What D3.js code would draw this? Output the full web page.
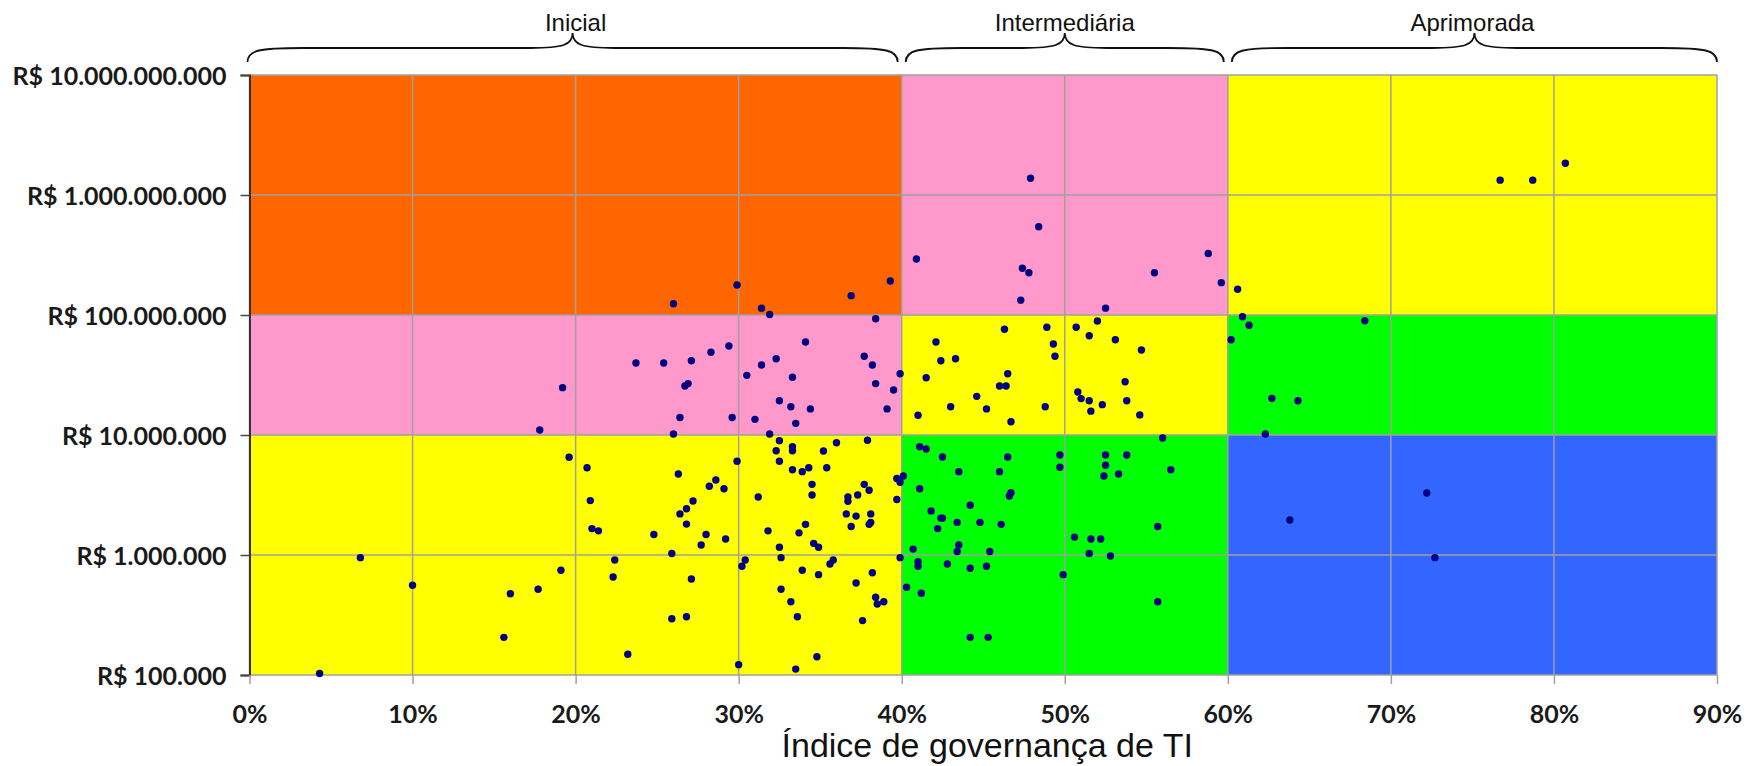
<!DOCTYPE html>
<html>
<head>
<meta charset="utf-8">
<script src="https://cdn.jsdelivr.net/npm/d3@7"></script>
<style>
  body { margin: 0; background: #fff; }
  svg { display: block; }
</style>
</head>
<body>
<svg id="chart" width="1752" height="766"></svg>
<script>
// governance index (%) for each organisation
let govIndex = [
  26.0, 29.9, 31.4, 31.9, 36.9, 39.3, 40.9, 47.4, 47.8, 47.3, 55.5, 52.5, 38.4,
  23.7, 25.4, 27.1, 28.3, 29.4, 26.7, 26.9, 26.4, 26.0, 29.6, 30.5, 31.4, 32.3,
  34.1, 33.3, 32.5, 33.2, 34.4, 33.5, 31.0, 31.9, 37.7, 38.2, 38.4, 39.5, 39.1,
  39.9, 42.1, 42.4, 43.3, 41.5, 41.0, 43.0, 44.6, 45.2, 46.0, 46.4, 46.5, 46.3,
  48.9, 49.3, 49.4, 46.7, 48.8, 50.7, 51.5, 52.0, 53.1, 54.7, 50.8, 51.0, 51.5,
  51.6, 52.3, 53.7, 53.8, 54.6, 56.0, 20.7, 20.9, 26.3, 28.6, 28.2, 29.1, 27.2,
  26.8, 29.9, 32.5, 32.3, 33.3, 33.3, 32.5, 35.2, 36.0, 37.9, 33.3, 33.9, 34.3,
  35.4, 34.5, 34.5, 37.7, 38.0, 37.3, 36.7, 36.7, 31.2, 39.7, 40.1, 39.9, 39.7,
  41.1, 41.5, 42.5, 43.5, 41.1, 46.5, 46.0, 46.7, 46.6, 44.2, 41.8, 49.7, 49.7,
  52.5, 53.8, 52.5, 52.4, 53.3, 56.5,
  26.4, 26.8, 24.8, 28.0, 27.7, 29.2, 25.9, 22.4, 22.3, 21.0, 21.4, 27.1, 25.9,
  26.8, 23.2, 30.0, 33.5, 34.8, 31.8, 33.7, 34.1, 32.5, 32.6, 34.6, 34.9, 30.4,
  30.2, 33.9, 34.9, 35.8, 35.6, 32.6, 33.2, 33.6, 36.6, 37.2, 38.1, 36.9, 38.0,
  38.1, 37.2, 38.2, 38.4, 38.5, 38.9, 37.6, 39.9, 40.7, 41.0, 41.0, 40.3, 41.2,
  42.4, 42.5, 42.2, 43.4, 44.8, 46.1, 43.5, 43.4, 45.4, 42.8, 44.2, 45.2, 44.2,
  45.3, 50.6, 51.6, 52.2, 51.5, 52.8, 49.9, 55.7, 55.7,
  6.8, 10.0, 16.0, 17.7, 19.1, 15.6, 4.3, 19.2, 17.8, 19.6,
  47.9, 48.4, 76.7, 78.7, 80.7, 58.8, 59.6, 60.6, 60.9, 61.3, 60.2, 68.4, 62.7,
  64.3, 62.3, 72.2, 63.8, 72.7
];

// IT budget, in millions of R$
let budgetMi = [
  124, 178, 114, 101, 145, 192, 293, 245, 225, 133, 225, 114, 93,
  39.8, 39.8, 41.6, 48.9, 55.2, 25.6, 26.8, 14.0, 10.2, 14.0, 31.4, 38.3, 43.2,
  59.6, 30.3, 19.3, 17.2, 16.5, 12.5, 13.5, 10.2, 45.3, 38.3, 26.8, 23.7, 16.5,
  32.4, 59.6, 41.6, 43.2, 30.0, 14.6, 17.2, 21.0, 16.5, 25.6, 25.6, 32.4, 76.0,
  79.0, 57.3, 45.3, 12.9, 17.2, 79.0, 67.2, 89.1, 62.2, 51.1, 22.8, 20.1, 19.3,
  15.8, 17.9, 27.8, 19.3, 14.7, 9.44, 5.34, 2.84, 4.73, 4.22, 3.74, 3.57, 2.82,
  2.43, 6.04, 8.97, 7.40, 7.99, 7.40, 6.04, 7.36, 8.63, 9.03, 5.14, 4.95, 5.34,
  5.34, 3.88, 3.16, 3.88, 3.46, 3.16, 3.04, 2.80, 3.04, 4.35, 4.55, 4.04, 2.90,
  7.99, 7.64, 6.56, 4.95, 3.57, 6.56, 4.95, 3.30, 3.10, 2.60, 2.33, 6.81, 5.38,
  6.81, 6.81, 5.59, 4.55, 4.73, 5.14,
  2.20, 1.81, 1.48, 1.48, 1.21, 1.36, 1.03, 0.908, 0.656, 1.66, 1.59, 0.631, 0.294,
  0.306, 0.149, 0.122, 0.112, 0.142, 1.59, 1.53, 1.80, 1.16, 0.950, 1.25, 1.16, 0.908,
  0.805, 0.746, 0.686, 0.908, 0.841, 0.518, 0.408, 0.306, 2.20, 2.11, 2.20, 1.73, 1.80,
  1.87, 0.584, 0.712, 0.444, 0.391, 0.408, 0.284, 0.950, 1.12, 0.879, 0.805, 0.538, 0.480,
  2.03, 2.03, 1.66, 1.87, 1.87, 1.80, 1.21, 1.07, 1.07, 0.841, 0.775, 0.805, 0.206,
  0.206, 1.41, 1.36, 1.36, 1.03, 0.981, 0.686, 1.73, 0.408,
  0.950, 0.559, 0.476, 0.518, 0.746, 0.206, 0.103, 24.8, 11.0, 6.52,
  1380, 544, 1330, 1330, 1840, 325, 186, 164, 96.8, 82.1, 62.2, 89.6, 20.2,
  19.3, 10.2, 3.29, 1.96, 0.950
];

// maturity levels and the index range each one covers
let levelNames = ["Inicial", "Intermediária", "Aprimorada"];
let levelStart = [0, 40, 60];
let levelEnd = [40, 60, 90];

// budget bands (bottom to top)
let bandStart = [1e5, 1e7, 1e8];
let bandEnd = [1e7, 1e8, 1e10];

let xTicks = [0, 10, 20, 30, 40, 50, 60, 70, 80, 90];
let yTicks = [1e5, 1e6, 1e7, 1e8, 1e9, 1e10];
let xTitle = "Índice de governança de TI";

// colour of each cell: [level][band]
let cellColors = [
  ["#FFFF00", "#FF99CC", "#FF6600"],
  ["#00FF00", "#FFFF00", "#FF99CC"],
  ["#3366FF", "#00FF00", "#FFFF00"]
];
let gridColor = "#A0A0A0";
let dotColor = "#000080";

let svg = d3.select("#chart");

let x = d3.scaleLinear().domain([0, 90]).range([249.5, 1717]);
let y = d3.scaleLog().domain([1e5, 1e10]).range([675, 75]);

let points = govIndex.map((g, i) => ({ g: g, v: budgetMi[i] * 1e6 }));

// coloured cells
let cells = [];
levelNames.forEach((n, li) => {
  bandStart.forEach((b, bi) => {
    cells.push({ li: li, bi: bi });
  });
});
svg.selectAll(".cell")
  .data(cells)
  .enter()
  .append("rect")
  .attr("x", d => x(levelStart[d.li]))
  .attr("width", d => x(levelEnd[d.li]) - x(levelStart[d.li]))
  .attr("y", d => y(bandEnd[d.bi]))
  .attr("height", d => y(bandStart[d.bi]) - y(bandEnd[d.bi]))
  .attr("fill", d => cellColors[d.li][d.bi]);

// grid
svg.append("g")
  .selectAll("line")
  .data(xTicks)
  .enter()
  .append("line")
  .attr("x1", d => x(d)).attr("x2", d => x(d))
  .attr("y1", y(1e10)).attr("y2", y(1e5))
  .attr("stroke", gridColor)
  .attr("stroke-width", 1.5);

svg.append("g")
  .selectAll("line")
  .data(yTicks)
  .enter()
  .append("line")
  .attr("x1", x(0)).attr("x2", x(90))
  .attr("y1", d => y(d)).attr("y2", d => y(d))
  .attr("stroke", gridColor)
  .attr("stroke-width", 1.5);

// y axis
let fmtReal = d => "R$ " + d3.format(",")(d).replace(/,/g, ".");
let yAxis = svg.append("g")
  .attr("transform", "translate(" + x(0) + ",0)")
  .call(d3.axisLeft(y).tickValues(yTicks).tickFormat(fmtReal).tickSize(9).tickPadding(14));
yAxis.select(".domain").attr("stroke", "#333").attr("stroke-width", 2);
yAxis.selectAll(".tick line").attr("stroke", "#444").attr("stroke-width", 1.5);
yAxis.selectAll("text")
  .style("font-family", "Lato, 'Open Sans', sans-serif")
  .style("font-size", "25px")
  .style("font-weight", "bold")
  .attr("fill", "#1a1a1a")
  .attr("dy", "0.36em");

// x axis
let xAxis = svg.append("g")
  .attr("transform", "translate(0," + y(1e5) + ")")
  .call(d3.axisBottom(x).tickValues(xTicks).tickFormat(d => d + "%").tickSize(9).tickPadding(21));
xAxis.select(".domain").remove();
xAxis.selectAll(".tick line").attr("stroke", gridColor).attr("stroke-width", 1.5);
xAxis.selectAll("text")
  .style("font-family", "Lato, 'Open Sans', sans-serif")
  .style("font-size", "25px")
  .style("font-weight", "bold")
  .attr("fill", "#1a1a1a");

// dots
svg.selectAll(".dot")
  .data(points)
  .enter()
  .append("circle")
  .attr("cx", d => x(d.g))
  .attr("cy", d => y(d.v))
  .attr("r", 3.7)
  .attr("fill", dotColor);

// axis title
svg.append("text")
  .attr("x", (x(0) + x(90)) / 2 + 4)
  .attr("y", 757)
  .attr("text-anchor", "middle")
  .style("font-family", "'Liberation Sans', Arial, sans-serif")
  .style("font-size", "34px")
  .attr("fill", "#111")
  .text(xTitle);

// curly braces over the maturity levels
function bracePath(x1, x2) {
  let m = (x1 + x2) / 2;
  let yEnd = 62, yFlat = 48, yTip = 33;
  return "M" + x1 + "," + yEnd +
    " C" + x1 + "," + (yFlat + 2) + " " + (x1 + 12) + "," + yFlat + " " + (x1 + 55) + "," + yFlat +
    " L" + (m - 42) + "," + yFlat +
    " C" + (m - 10) + "," + yFlat + " " + m + "," + (yFlat - 3) + " " + m + "," + yTip +
    " C" + m + "," + (yFlat - 3) + " " + (m + 10) + "," + yFlat + " " + (m + 42) + "," + yFlat +
    " L" + (x2 - 55) + "," + yFlat +
    " C" + (x2 - 12) + "," + yFlat + " " + x2 + "," + (yFlat + 2) + " " + x2 + "," + yEnd;
}

let braces = svg.selectAll(".brace")
  .data(levelNames)
  .enter()
  .append("g");

braces.append("path")
  .attr("d", (d, i) => bracePath(x(levelStart[i]) - 2 + (i > 0 ? 6 : 0), x(levelEnd[i]) - (i < 2 ? 4 : 0)))
  .attr("fill", "none")
  .attr("stroke", "#111")
  .attr("stroke-width", 1.8);

braces.append("text")
  .attr("x", (d, i) => (x(levelStart[i]) + x(levelEnd[i])) / 2)
  .attr("y", 31)
  .attr("text-anchor", "middle")
  .style("font-family", "'Liberation Sans', Arial, sans-serif")
  .style("font-size", "24px")
  .attr("fill", "#111")
  .text(d => d);
</script>
</body>
</html>
